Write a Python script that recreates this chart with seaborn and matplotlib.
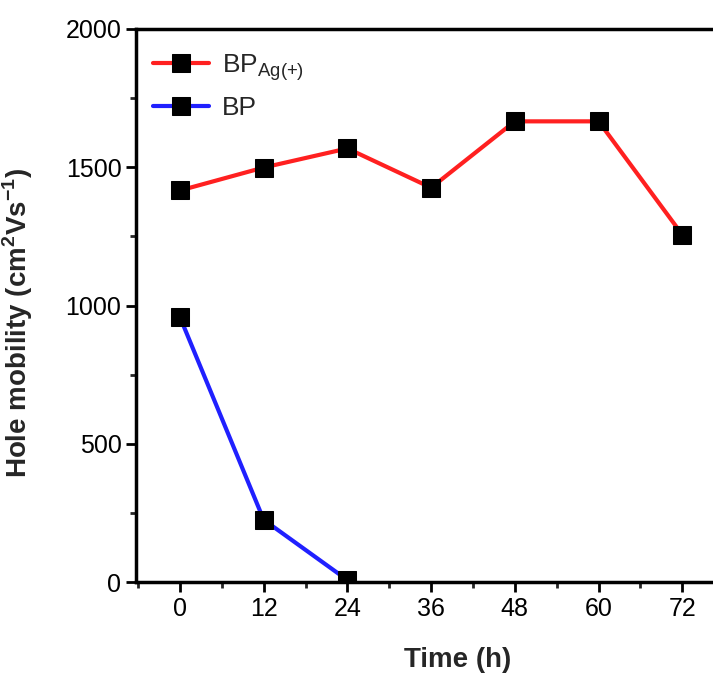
import matplotlib
matplotlib.use("Agg")
import matplotlib.pyplot as plt
import seaborn as sns
import pandas as pd
from matplotlib.ticker import MultipleLocator

time_h = [0, 12, 24, 36, 48, 60, 72]
bp_ag = [1416, 1499, 1568, 1426, 1666, 1666, 1256]
time_bp = [0, 12, 24]
bp = [958, 225, 7]
x_ticks = [0, 12, 24, 36, 48, 60, 72]
y_ticks = [0, 500, 1000, 1500, 2000]

sns.set_theme(style="ticks")
plt.rcParams['font.family'] = ['Liberation Sans', 'DejaVu Sans']

fig = plt.figure(figsize=(7.13, 6.73), dpi=100)
W, H = 713, 673
x0, x1 = 136, 780
y_top, y_bot = 29, 582
ax = fig.add_axes([x0 / W, 1 - y_bot / H, (x1 - x0) / W, (y_bot - y_top) / H])

df1 = pd.DataFrame({"t": time_h, "v": bp_ag})
df2 = pd.DataFrame({"t": time_bp, "v": bp})
common = dict(marker="s", markersize=13, markerfacecolor="black", markeredgecolor="black",
              linewidth=3, ax=ax)
sns.lineplot(data=df1, x="t", y="v", color="#ff2020", label=r"BP$_{\mathregular{Ag(+)}}$", **common)
sns.lineplot(data=df2, x="t", y="v", color="#2020ff", label="BP", **common)

ax.set_xlim(-6.3, 86)
ax.set_ylim(0, 2000)
ax.set_xticks(x_ticks)
ax.set_yticks(y_ticks)
ax.xaxis.set_minor_locator(MultipleLocator(6))
ax.yaxis.set_minor_locator(MultipleLocator(250))
ax.tick_params(which="major", direction="out", length=7, width=2, labelsize=18, colors="black")
ax.tick_params(which="minor", direction="out", length=4, width=2)
for s in ax.spines.values():
    s.set_linewidth(2.5)
    s.set_color("black")

ax.set_xlabel("Time (h)", fontsize=20, fontweight="bold", labelpad=19)
ax.set_ylabel(r"Hole mobility (cm$^{\mathregular{2}}$Vs$^{\mathregular{-1}}$)", fontsize=20,
              fontweight="bold")
ax.yaxis.set_label_coords(-0.157, 0.468)

leg = ax.legend(loc="upper left", bbox_to_anchor=(0.0, 0.99), frameon=False, fontsize=19,
                handlelength=2.1, handletextpad=0.5, borderaxespad=0.25, labelspacing=0.5)

fig.savefig("out.png", dpi=100)
